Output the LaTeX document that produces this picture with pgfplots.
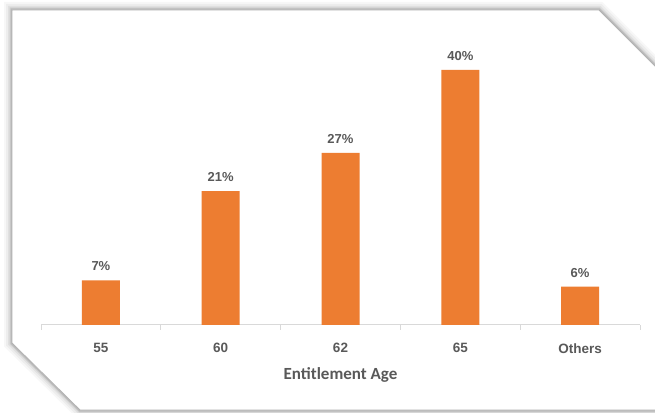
\documentclass[border=0pt]{standalone}
\usepackage{pgfplots}
\pgfplotsset{compat=1.18}
\usepackage{fontspec}
\setmainfont{Liberation Sans}
\newfontfamily\titlefont{Carlito}
\definecolor{barorange}{HTML}{ED7D31}
\definecolor{txtgray}{HTML}{595959}
\definecolor{axgray}{HTML}{D9D9D9}
\begin{document}
\begin{tikzpicture}[x=1pt,y=1pt]
\useasboundingbox (0,0) rectangle (655,412);
\fill[white] (0,0) rectangle (655,412);
% shadow
\foreach \w/\o in {16/0.03,12/0.04,8/0.05,5/0.07,3/0.10}{
  \draw[black,opacity=\o,line width=\w pt,line join=miter]
    (12,402) -- (599,402) -- (660,341) -- (660,2) -- (80,2) -- (12,69) -- cycle;
}
\fill[white] (12,402) -- (599,402) -- (660,341) -- (660,2) -- (80,2) -- (12,69) -- cycle;
\draw[gray!60,line width=0.8pt] (12,402) -- (599,402) -- (660,341) -- (660,2) -- (80,2) -- (12,69) -- cycle;
\begin{axis}[
  at={(41pt,87pt)}, anchor=south west,
  scale only axis,
  width=599pt, height=280.5pt,
  xmin=-0.5, xmax=4.5, ymin=0, ymax=44,
  axis y line=none,
  axis x line*=bottom,
  x axis line style={axgray, line width=1pt, -},
  xtick={0,1,2,3,4},
  xticklabels={55,60,62,65,Others},
  major tick length=0pt,
  minor xtick={-0.5,0.5,1.5,2.5,3.5,4.5},
  minor tick length=5pt,
  tick align=outside,
  minor tick style={axgray, line width=1pt},
  xticklabel style={font=\fontsize{13.5}{13.5}\selectfont\bfseries, text=txtgray, yshift=-15pt},
  xlabel={\titlefont\bfseries Entitlement Age},
  xlabel style={font=\fontsize{17}{17}\selectfont, text=txtgray, yshift=-7pt},
  /pgf/number format/assume math mode=true,
  ybar, bar width=38pt,
  nodes near coords={\pgfmathprintnumber{\pgfplotspointmeta}\%},
  nodes near coords style={font=\fontsize{13}{13}\selectfont\bfseries, text=txtgray, yshift=6pt},
  clip=false,
]
\addplot[fill=barorange, draw=none] coordinates {(0,7) (1,21) (2,27) (3,40) (4,6)};
\end{axis}
\end{tikzpicture}
\end{document}
